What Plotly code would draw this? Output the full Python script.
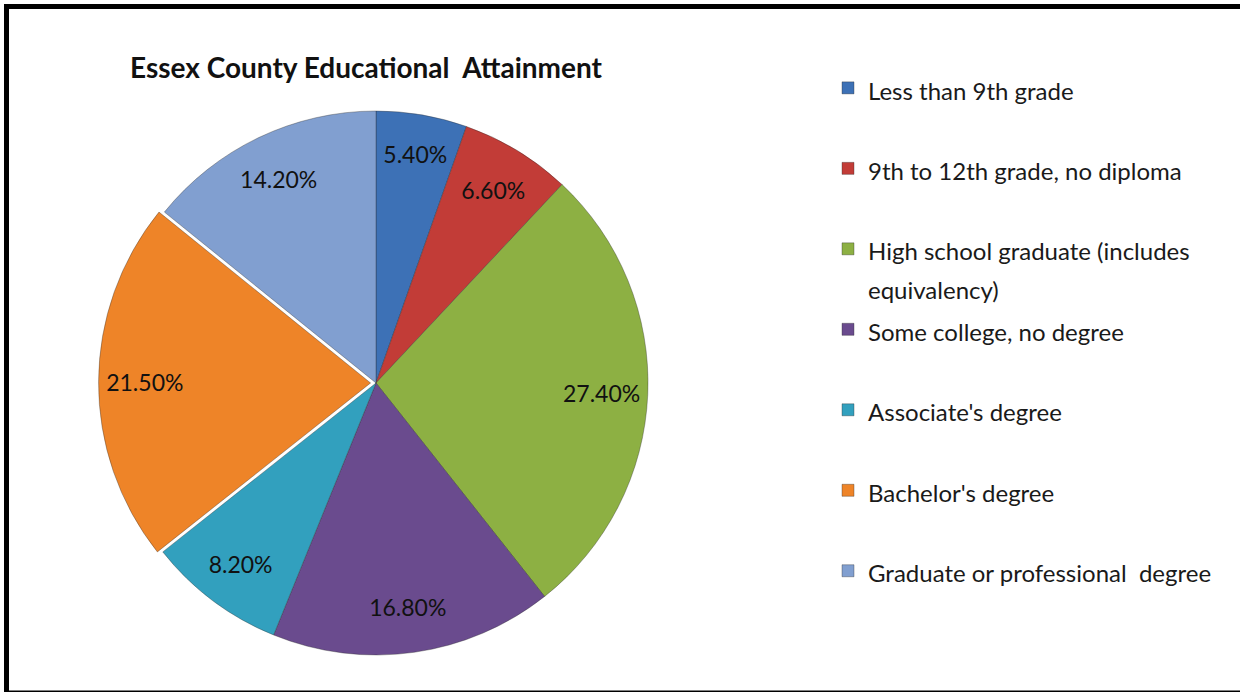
import plotly.graph_objects as go

labels = [
    "Less than 9th grade",
    "9th to 12th grade, no diploma",
    "High school graduate (includes<br>equivalency)",
    "Some college, no degree",
    "Associate's degree",
    "Bachelor's degree",
    "Graduate or professional  degree",
]
values = [5.4, 6.6, 27.4, 16.8, 8.2, 21.5, 14.2]
colors = ["#3D71B6", "#C23C37", "#8DB043", "#6A4B8E", "#32A0BE", "#EE8428", "#819FD0"]
pulls = [0, 0, 0, 0, 0, 0.02, 0]
title_text = "Essex County Educational  Attainment"

W, H = 1240, 692
cx, cy, R = 376, 383, 272
half = R * (1 + max(pulls))
domain = dict(x=[(cx - half) / W, (cx + half) / W],
              y=[(H - cy - half) / H, (H - cy + half) / H])

LEG_SIZE = 24
LEG_BASE = 29.8  # base size sets the line pitch; visible text uses LEG_SIZE


def legend_name(lab):
    parts = ['<span style="font-size:%dpx">%s</span>' % (LEG_SIZE, p) for p in lab.split("<br>")]
    body = "<br>".join(parts)
    # every entry uses two lines so all entries take the same vertical slot
    return body + ("<br> " if len(parts) == 1 else "")


legend_names = [legend_name(l) for l in labels]

fig = go.Figure()
# coloured slices
fig.add_trace(go.Pie(
    labels=legend_names,
    values=values,
    sort=False,
    direction="clockwise",
    rotation=0,
    pull=pulls,
    marker=dict(colors=colors, line=dict(color="rgba(40,40,40,0.35)", width=1)),
    textinfo="none",
    hoverinfo="skip",
    domain=domain,
))
# transparent ring carrying the value labels toward the outer edge
fig.add_trace(go.Pie(
    labels=legend_names,
    values=values,
    sort=False,
    direction="clockwise",
    rotation=0,
    pull=pulls,
    hole=0.66,
    showlegend=False,
    marker=dict(colors=["rgba(0,0,0,0)"] * len(values), line=dict(width=0)),
    texttemplate="%{value:.2f}%",
    textposition="inside",
    insidetextorientation="horizontal",
    textfont=dict(family="Lato", size=23, color="#111111"),
    hoverinfo="skip",
    domain=domain,
))

fig.update_layout(
    width=W, height=H,
    margin=dict(l=0, r=0, t=0, b=0),
    paper_bgcolor="white",
    plot_bgcolor="white",
    font=dict(family="Lato", color="#111111"),
    uniformtext=dict(minsize=23, mode="show"),
    title=dict(text="<b>" + title_text + "</b>", x=366 / W, xanchor="center",
               y=1 - 68 / H, yanchor="middle",
               font=dict(family="Lato", size=28, color="#111111")),
    legend=dict(x=828 / W, xanchor="left", y=1 - 62 / H, yanchor="top",
                valign="top",
                font=dict(family="Lato", size=LEG_BASE, color="#1a1a1a"),
                bgcolor="rgba(0,0,0,0)", traceorder="normal"),
    shapes=[dict(type="rect", xref="paper", yref="paper",
                 x0=6.5 / W, x1=1.02, y0=1 - 693 / H, y1=1 - 6.5 / H,
                 line=dict(color="black", width=5))],
)

fig.write_html("out.html",
               config={"displayModeBar": False},
               post_script="document.body.style.margin='0';document.body.style.overflow='hidden';")
